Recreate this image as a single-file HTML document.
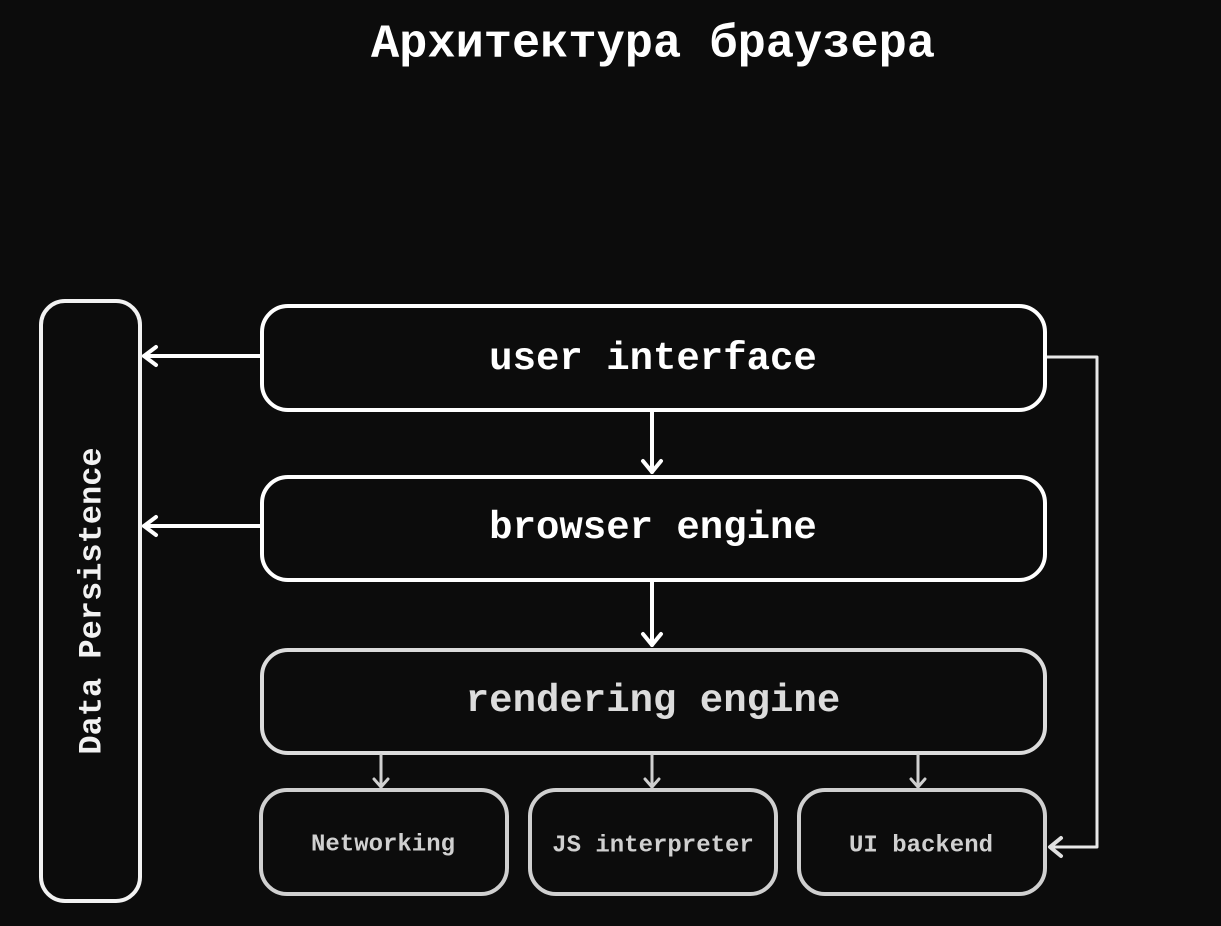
<!DOCTYPE html>
<html><head><meta charset="utf-8"><style>
html,body{margin:0;padding:0;background:#0c0c0c;width:1221px;height:926px;overflow:hidden}
svg{display:block}
text{font-family:"Liberation Mono","DejaVu Sans Mono",monospace;font-weight:bold;text-anchor:middle;dominant-baseline:central}
</style></head><body>
<svg width="1221" height="926" viewBox="0 0 1221 926" xmlns="http://www.w3.org/2000/svg">
<rect width="1221" height="926" fill="#0c0c0c"/>
<text x="653" y="45" font-size="47" fill="#fff">Архитектура браузера</text>

<rect x="41" y="301" width="99" height="600" rx="24" fill="none" stroke="#f2f2f2" stroke-width="4"/>
<text transform="translate(92,601) rotate(-90)" font-size="32" fill="#f2f2f2">Data Persistence</text>

<rect x="262" y="306" width="783" height="104" rx="26" fill="none" stroke="#fff" stroke-width="4"/>
<text x="653" y="359" font-size="39" fill="#fff">user interface</text>
<rect x="262" y="477" width="783" height="103" rx="26" fill="none" stroke="#fff" stroke-width="4"/>
<text x="653" y="528" font-size="39" fill="#fff">browser engine</text>
<rect x="262" y="650" width="783" height="103" rx="26" fill="none" stroke="#dcdcdc" stroke-width="4"/>
<text x="653" y="701" font-size="39" fill="#dcdcdc">rendering engine</text>

<g fill="none" stroke="#d0d0d0" stroke-width="4">
<rect x="261" y="790" width="246" height="104" rx="26"/>
<rect x="530" y="790" width="246" height="104" rx="26"/>
<rect x="799" y="790" width="246" height="104" rx="26"/>
</g>
<g font-size="24" fill="#d0d0d0">
<text x="383" y="845">Networking</text>
<text x="653" y="846">JS interpreter</text>
<text x="921" y="846">UI backend</text>
</g>

<g fill="none" stroke="#fff" stroke-width="4" stroke-linecap="round" stroke-linejoin="round">
<line x1="262" y1="356" x2="144" y2="356"/><polyline points="156,347 144,356 156,365"/>
<line x1="262" y1="526" x2="144" y2="526"/><polyline points="156,517 144,526 156,535"/>
<line x1="652" y1="412" x2="652" y2="472"/><polyline points="643,461 652,472 661,461"/>
<line x1="652" y1="582" x2="652" y2="645"/><polyline points="643,634 652,645 661,634"/>
</g>
<g fill="none" stroke="#d0d0d0" stroke-width="3" stroke-linecap="round" stroke-linejoin="round">
<line x1="381" y1="755" x2="381" y2="787"/><polyline points="374,779 381,787 388,779"/>
<line x1="652" y1="755" x2="652" y2="787"/><polyline points="645,779 652,787 659,779"/>
<line x1="918" y1="755" x2="918" y2="787"/><polyline points="911,779 918,787 925,779"/>
</g>
<polyline points="1047,357 1097,357 1097,847 1050,847" fill="none" stroke="#e8e8e8" stroke-width="3" stroke-linejoin="round"/>
<polyline points="1061,838 1050,847 1061,856" fill="none" stroke="#e0e0e0" stroke-width="4" stroke-linecap="round" stroke-linejoin="round"/>
</svg>
</body></html>
